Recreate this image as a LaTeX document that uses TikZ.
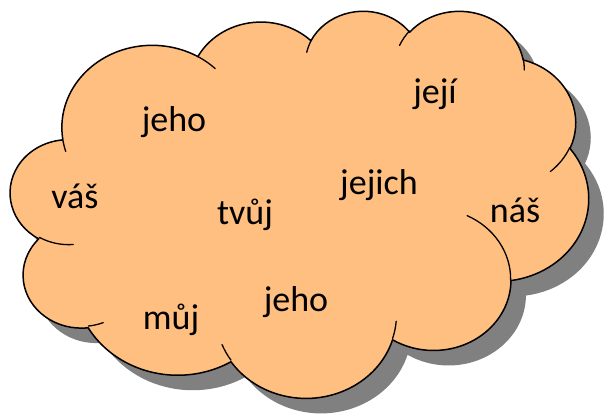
\documentclass[tikz,border=0pt]{standalone}
\usepackage{fontspec}
\setmainfont{Carlito}
\definecolor{cloudfill}{RGB}{255,191,128}
\definecolor{cloudshadow}{RGB}{128,128,128}
% visual (DrawingML) angles -> parametric angles for an ellipse rx x ry
\newcommand\cldang[4]{%
  \pgfmathparse{atan2((#1)*sin(#3),(#2)*cos(#3))}\let\cldtmp\pgfmathresult
  \pgfmathparse{\cldtmp+360*round(((#3)-\cldtmp)/360)}\global\let\cldts\pgfmathresult
  \pgfmathparse{atan2((#1)*sin((#3)+(#4)),(#2)*cos((#3)+(#4)))}\let\cldtmp\pgfmathresult
  \pgfmathparse{\cldtmp+360*round((((#3)+(#4))-\cldtmp)/360)}\global\let\cldte\pgfmathresult}
\newcommand\cldarc[4]{\pgfextra{\cldang{#1}{#2}{#3}{#4}} arc[x radius=#1, y radius=#2, start angle=\cldts, end angle=\cldte]}
\newcommand\cloudpath{(3.900,14.370)
  \cldarc{6.753}{9.190}{-190.4875}{123.7805}
  \cldarc{5.333}{7.267}{-144.1024}{89.9452}
  \cldarc{4.365}{5.945}{-145.8079}{99.7230}
  \cldarc{4.857}{6.595}{-130.9861}{117.2417}
  \cldarc{5.333}{7.273}{-78.7089}{109.0269}
  \cldarc{6.775}{9.220}{-46.2673}{130.2690}
  \cldarc{5.785}{7.867}{0.6250}{114.0333}
  \cldarc{6.752}{9.215}{22.4516}{115.1726}
  \cldarc{7.720}{10.543}{66.2426}{75.7110}
  \cldarc{4.360}{5.918}{-274.9421}{146.7356}
  \cldarc{4.345}{5.945}{-246.8285}{152.5189}
  -- cycle}
\newcommand\cloudcurls{%
  (4.693,26.177) \cldarc{4.345}{5.945}{86.7420}{26.4295}
  (6.928,34.899) \cldarc{4.360}{5.918}{73.6105}{11.4475}
  (16.478,39.090) \cldarc{6.752}{9.215}{137.6242}{14.0811}
  (28.827,34.751) \cldarc{6.752}{9.215}{6.4533}{15.9984}
  (34.129,22.954) \cldarc{5.785}{7.867}{-70.2924}{70.9174}
  (41.798,15.354) \cldarc{5.333}{7.273}{30.3180}{27.7515}
  (38.324,5.426) \cldarc{4.857}{6.595}{-13.7443}{14.8589}
  (29.078,3.952) \cldarc{4.857}{6.595}{-149.1815}{18.1954}
  (22.141,4.720) \cldarc{4.365}{5.945}{-163.4943}{17.6864}
  (14.000,5.192) \cldarc{6.753}{9.190}{-66.7070}{12.3194}
  (4.127,15.789) \cldarc{6.753}{9.190}{157.6544}{11.8582}}
\tikzset{
  cloudtf/.style={shift={(10.5,-10)}, xscale=13.3796, yscale=-8.9583},
  cloudline/.style={draw=black, line width=1.5pt, line join=round},
  curlline/.style={draw=black, line width=1.3pt, line cap=round},
  word/.style={anchor=base, inner sep=0pt, font=\fontsize{36}{40}\selectfont}
}
\begin{document}
\begin{tikzpicture}[x=1pt,y=1pt]
\useasboundingbox (0,0) rectangle (605,-413);
\begin{scope}[shift={(15,-15)}, cloudtf]
  \fill[cloudshadow] \cloudpath;
\end{scope}
\begin{scope}[cloudtf]
  \path[fill=cloudfill, cloudline] \cloudpath;
  \path[curlline] \cloudcurls;
\end{scope}
\node[word] (w1) at (174,-131) {jeho};
\node[word] (w2) at (435,-103) {její};
\node[word] (w3) at (75,-208) {váš};
\node[word] (w4) at (245,-224) {tvůj};
\node[word] (w5) at (379,-194) {jejich};
\node[word] (w6) at (515,-222) {náš};
\node[word] (w7) at (171,-329) {můj};
\node[word] (w8) at (296,-311) {jeho};
\end{tikzpicture}
\end{document}
